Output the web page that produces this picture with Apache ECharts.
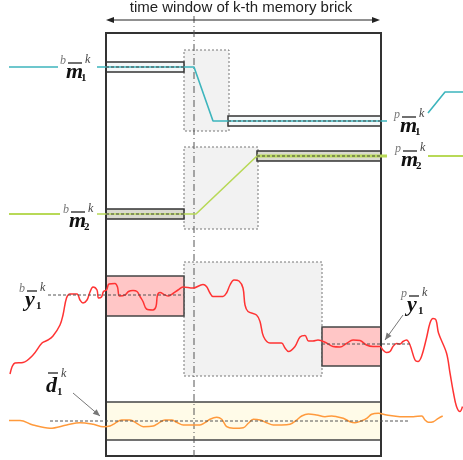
<!DOCTYPE html>
<html>
<head>
<meta charset="utf-8">
<script src="https://cdn.jsdelivr.net/npm/echarts@6/dist/echarts.min.js"></script>
<style>
  html, body { margin: 0; padding: 0; background: #fff; }
  #chart { width: 463px; height: 460px; }
</style>
</head>
<body>
<div id="chart"></div>
<script>
// ---- time / level data (units of the drawing axes) ----
const windowSpan = [106, 381];          // memory brick time window
const frameLevels = [33, 456];          // top / bottom of the brick frame
const anchorTime = 194;                 // dash-dot reference instant
const headerArrow = [106, 380, 20];     // [t0, t1, level]
const headerText = 'time window of k-th memory brick';

// mean trajectories
const m1Left = [[9, 67], [58, 67]];
const m1Main = [[97, 67], [194, 67], [213, 121], [387, 121]];
const m1Right = [[428, 113], [445, 92], [463, 92]];
const m2Left = [[9, 214], [60, 214]];
const m2Main = [[97, 214], [196, 214], [257, 156], [387, 156]];
const m2Right = [[428, 156], [463, 156]];

// bands: [t0, t1, lower, upper]
const m1Bands = [[106, 184, 62, 72], [228, 381, 116, 126]];
const m2Bands = [[106, 184, 209, 219], [257, 381, 151, 161]];
const y1Bands = [[106, 184, 276, 316], [322, 381, 327, 366]];
const d1Band = [[106, 381, 402, 440]];
const transitionBoxes = [[184, 229, 50, 131], [184, 258, 147, 229], [184, 322, 262, 376]];

// band mean levels: [t0, t1, level]
const meanLines = [[106, 184, 67], [228, 381, 121], [106, 184, 214], [257, 381, 156]];
const refLines = [[48, 184, 295], [322, 410, 344], [50, 410, 421]];

// output signal y1
const y1Signal = [
  [10, 374], [15, 363], [23, 362.5], [33, 355], [42, 343], [48, 340], [53, 336], [60, 325],
  [63, 315], [66.5, 298], [70, 294], [77, 294], [80, 300], [83, 303], [87, 300], [90, 292],
  [93, 287], [97, 290], [98.5, 298], [101.5, 297], [103.5, 291.5], [106.5, 290], [109, 284],
  [115, 283.5], [117.5, 287], [119.5, 296], [125, 295], [128.5, 291.5], [133, 290.5],
  [137, 291.5], [140, 296.5], [143, 301.5], [146.5, 309], [153, 310], [156, 306.5],
  [157.5, 295], [160, 292.5], [165, 295], [168.5, 296], [173, 293.5], [178, 290], [183, 287],
  [193, 288], [203, 284.5], [206.5, 286.5], [210, 293], [213, 296.5], [223, 296.5],
  [226.5, 293], [230, 285], [234, 280], [239, 281], [243, 288], [245, 305], [248, 311.5],
  [256.5, 315], [260, 321.5], [263.5, 336.5], [270, 343], [281.5, 343], [285, 348],
  [288.5, 351.5], [295, 346.5], [300, 337], [305, 335.5], [308.5, 341], [313, 341],
  [318, 340], [326.5, 343], [333, 346.5], [340, 347], [346.5, 343.5], [353, 340], [360, 340.5],
  [366.5, 345], [373, 346.5], [380, 346.5], [383, 350], [386.5, 352.5], [390, 351.5],
  [393, 346.5], [396.5, 343.5], [400, 344], [403, 341.5], [406.5, 340], [410, 345],
  [415, 360], [418, 361.5], [421.5, 356.5], [426.5, 338], [430, 323], [433, 318.5],
  [436, 320], [438.5, 333], [446.5, 353], [450, 373], [453.5, 393], [456.5, 406.5],
  [460, 411.5], [462.5, 406.5]
];

// disturbance d1
const d1Signal = [
  [9, 420.5], [20, 420.5], [33, 425], [50, 428.3], [66.7, 425], [80, 422.7], [93.3, 424.3],
  [103.3, 426.7], [110, 426], [115, 423.3], [121.7, 420], [130, 420], [136.7, 423.3],
  [143.3, 426.7], [153.3, 426], [158.3, 423.3], [165, 420], [171.7, 420], [176.7, 422.3],
  [183.3, 425], [190, 425], [200, 425], [205, 422.7], [210, 419.3], [216.7, 417.3],
  [221.7, 419.3], [226.7, 426.7], [233.3, 428.3], [243.3, 427.7], [248.3, 423.3],
  [253.3, 419.3], [260, 420], [266.7, 422.7], [273.3, 425], [281.7, 425], [290, 424.3],
  [296.7, 420], [301.7, 416], [308.3, 414], [316.7, 415], [325, 416.7], [331.7, 416],
  [336.7, 416.7], [343.3, 418.3], [350, 421.7], [355, 422.7], [361.7, 420.7], [366.7, 418.3],
  [371.7, 414.3], [378.3, 413.3], [386.7, 415], [400, 416.7], [413.3, 416.7], [421.7, 416],
  [425, 420], [428.3, 422.3], [433.3, 421.7], [438.3, 418.3], [442.7, 416]
];

// variable labels: prefix, symbol, subscript, anchor (symbol left, x-height middle)
const varLabels = [
  { pre: 'b', sym: 'm', sub: '1', at: [66, 72] },
  { pre: 'b', sym: 'm', sub: '2', at: [69, 221] },
  { pre: 'p', sym: 'm', sub: '1', at: [400, 126] },
  { pre: 'p', sym: 'm', sub: '2', at: [401, 160] },
  { pre: 'b', sym: 'y', sub: '1', at: [25, 300] },
  { pre: 'p', sym: 'y', sub: '1', at: [407, 305] },
  { pre: '',  sym: 'd', sub: '1', at: [46, 386] }
];
// pointer arrows: [t0, level0, t1, level1]
const pointers = [[403, 315, 385, 340], [73, 393, 100, 416]];

const SERIF = "'Liberation Serif', 'DejaVu Serif', serif";
const SANS = "'Liberation Sans', Arial, sans-serif";

function rectItem(style) {
  return function (params, api) {
    const a = api.coord([api.value(0), api.value(2)]);
    const b = api.coord([api.value(1), api.value(3)]);
    return {
      type: 'rect',
      shape: { x: a[0], y: a[1], width: b[0] - a[0], height: b[1] - a[1] },
      style: Object.assign({}, style)
    };
  };
}

function hLineItem(style) {
  return function (params, api) {
    const a = api.coord([api.value(0), api.value(2)]);
    const b = api.coord([api.value(1), api.value(2)]);
    return {
      type: 'line',
      shape: { x1: a[0], y1: a[1], x2: b[0], y2: b[1] },
      style: Object.assign({}, style)
    };
  };
}

function arrowHead(tip, from, len, half, color) {
  const dx = tip[0] - from[0], dy = tip[1] - from[1];
  const d = Math.sqrt(dx * dx + dy * dy) || 1;
  const ux = dx / d, uy = dy / d;
  const bx = tip[0] - ux * len, by = tip[1] - uy * len;
  return {
    type: 'polygon',
    shape: { points: [tip, [bx - uy * half, by + ux * half], [bx + uy * half, by - ux * half]] },
    style: { fill: color }
  };
}

function rectSeries(data, style, z) {
  return {
    type: 'custom', data: data, z: z, clip: false, silent: true,
    encode: { x: [0, 1], y: [2, 3] },
    renderItem: rectItem(style)
  };
}

function lineSeries(data, color, width, z, extra) {
  return Object.assign({
    type: 'line', data: data, showSymbol: false, symbol: 'none', z: z, silent: true,
    lineStyle: { color: color, width: width }
  }, extra || {});
}

const chart = echarts.init(document.getElementById('chart'), null, { renderer: 'canvas' });

const option = {
  animation: false,
  backgroundColor: '#ffffff',
  grid: { left: 0, right: 0, top: 0, bottom: 0 },
  xAxis: { type: 'value', min: 0, max: 463, show: false },
  yAxis: { type: 'value', min: 0, max: 460, inverse: true, show: false },
  series: [
    // transition regions
    rectSeries(transitionBoxes, { fill: '#f2f2f2', stroke: '#777', lineWidth: 1, lineDash: [2, 2] }, 1),
    // disturbance band
    rectSeries(d1Band, { fill: '#fffbe8', stroke: '#444', lineWidth: 1.5 }, 2),
    // output bands
    rectSeries(y1Bands, { fill: '#ffc6c6', stroke: '#444', lineWidth: 1.5 }, 2),
    // m1 bands
    rectSeries(m1Bands, { fill: '#f4f8f9', stroke: '#333', lineWidth: 1.5 }, 2),
    // m2 bands
    rectSeries(m2Bands, { fill: '#dadad0', stroke: '#333', lineWidth: 1.5 }, 2),
    // brick frame
    {
      type: 'custom', data: [[windowSpan[0], windowSpan[1], frameLevels[0], frameLevels[1]]],
      z: 3, clip: false, silent: true, encode: { x: [0, 1], y: [2, 3] },
      renderItem: rectItem({ fill: 'none', stroke: '#333', lineWidth: 2 })
    },
    // anchor dash-dot line
    lineSeries([[anchorTime, 16], [anchorTime, 460]], '#555', 1, 4, { lineStyle: { color: '#555', width: 1, type: [7, 3, 1, 3] } }),
    // mean trajectories
    lineSeries(m1Left, '#3db5bd', 1.6, 5),
    lineSeries(m1Main, '#3db5bd', 1.6, 5),
    lineSeries(m1Right, '#3db5bd', 1.6, 5),
    lineSeries(m2Left, '#b8d957', 2, 5),
    lineSeries(m2Main.slice(0, 3), '#b8d957', 1.6, 5),
    lineSeries(m2Main.slice(2), '#b8d957', 3, 5),
    lineSeries(m2Right, '#b8d957', 2, 5),
    // signals
    lineSeries(y1Signal, '#ff3333', 1.5, 6, { smooth: 0.35 }),
    lineSeries(d1Signal, '#ff9a3c', 1.5, 6, { smooth: 0.35 }),
    // band means and reference levels
    {
      type: 'custom', data: meanLines, z: 7, clip: false, silent: true, encode: { x: [0, 1], y: 2 },
      renderItem: hLineItem({ stroke: '#444', lineWidth: 1, lineDash: [3, 2] })
    },
    {
      type: 'custom', data: refLines, z: 7, clip: false, silent: true, encode: { x: [0, 1], y: 2 },
      renderItem: hLineItem({ stroke: '#555', lineWidth: 1, lineDash: [3, 2] })
    },
    // header double arrow with caption
    {
      type: 'custom', data: [headerArrow], z: 8, clip: false, silent: true, encode: { x: [0, 1], y: 2 },
      renderItem: function (params, api) {
        const a = api.coord([api.value(0), api.value(2)]);
        const b = api.coord([api.value(1), api.value(2)]);
        return {
          type: 'group',
          children: [
            { type: 'line', shape: { x1: a[0] + 3, y1: a[1], x2: b[0] - 3, y2: b[1] }, style: { stroke: '#222', lineWidth: 1 } },
            arrowHead(a, b, 8, 3, '#222'),
            arrowHead(b, a, 8, 3, '#222'),
            {
              type: 'text', x: (a[0] + b[0]) / 2 - 2, y: a[1] - 12,
              style: { text: headerText, font: '15px ' + SANS, fill: '#222', align: 'center', verticalAlign: 'middle' }
            }
          ]
        };
      }
    },
    // pointer arrows
    {
      type: 'custom', data: pointers, z: 8, clip: false, silent: true, encode: { x: [0, 2], y: [1, 3] },
      renderItem: function (params, api) {
        const a = api.coord([api.value(0), api.value(1)]);
        const b = api.coord([api.value(2), api.value(3)]);
        return {
          type: 'group',
          children: [
            { type: 'line', shape: { x1: a[0], y1: a[1], x2: b[0], y2: b[1] }, style: { stroke: '#777', lineWidth: 1 } },
            arrowHead(b, a, 7, 3, '#777')
          ]
        };
      }
    },
    // variable labels
    {
      type: 'custom', data: varLabels.map(function (l) { return l.at; }), z: 9, clip: false, silent: true,
      renderItem: function (params, api) {
        const spec = varLabels[params.dataIndex];
        const p = api.coord([api.value(0), api.value(1)]);
        const x = p[0], y = p[1];
        const w = spec.sym === 'm' ? 16 : 12;
        const children = [];
        if (spec.pre) {
          children.push({ type: 'text', x: x - 6, y: y - 11, style: { text: spec.pre, font: 'italic 12px ' + SERIF, fill: '#777', align: 'left', verticalAlign: 'middle' } });
        }
        children.push({ type: 'text', x: x, y: y, style: { text: spec.sym, font: 'italic bold 22px ' + SERIF, fill: '#111', align: 'left', verticalAlign: 'middle' } });
        const barY = spec.sym === 'd' ? y - 13 : y - 9;
        children.push({ type: 'line', shape: { x1: x + 2, y1: barY, x2: x + w, y2: barY }, style: { stroke: '#333', lineWidth: 1.4 } });
        children.push({ type: 'text', x: x + w - 1, y: y + 6, style: { text: spec.sub, font: 'bold 11px ' + SERIF, fill: '#111', align: 'left', verticalAlign: 'middle' } });
        children.push({ type: 'text', x: x + w + 3, y: y - 12, style: { text: 'k', font: 'italic 12px ' + SERIF, fill: '#444', align: 'left', verticalAlign: 'middle' } });
        return { type: 'group', children: children };
      }
    }
  ]
};

chart.setOption(option);
</script>
</body>
</html>
